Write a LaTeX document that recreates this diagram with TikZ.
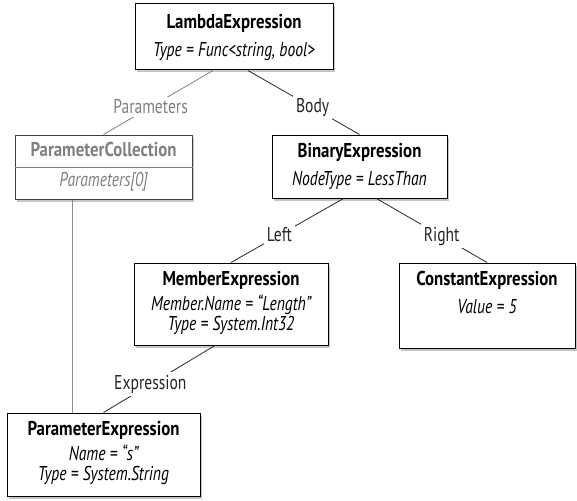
\documentclass[tikz,border=0pt]{standalone}
\usepackage{fontspec}
\setmainfont{PT Sans}[FakeStretch=0.78]
\newfontfamily\titlefont{PT Sans}[FakeStretch=0.84]
\usetikzlibrary{shadows,fit}
\definecolor{dimgray}{HTML}{808080}
\newcommand{\eqs}{\hspace{0.22em}=\hspace{0.22em}}
\tikzset{
  box/.style={draw=black, line width=1pt, fill=white, inner sep=0pt,
    drop shadow={shadow xshift=2pt, shadow yshift=-2.5pt, fill=black!50, opacity=0.45}},
  txt/.style={anchor=base, inner sep=0pt, font=\fontsize{20}{22}\selectfont},
  ttl/.style={txt, font=\fontsize{20}{22}\selectfont\titlefont\bfseries},
  conn/.style={line width=0.8pt, black!85},
  gconn/.style={line width=0.8pt, dimgray},
  lbl/.style={fill=white, inner sep=3pt, font=\fontsize{20}{22}\selectfont}
}
\begin{document}
\begin{tikzpicture}[x=1pt,y=-1pt]
\useasboundingbox (0,0) rectangle (577,500);
% boxes
\node[box, fit={(135,4) (333,70)}] (lambda) {};
\node[box, draw=black!75, fit={(15,135) (192,199)}] (pc) {};
\node[box, fit={(272,135) (447,198)}] (be) {};
\node[box, fit={(134,263) (328,345)}] (me) {};
\node[box, fit={(399,263) (575,348)}] (ce) {};
\node[box, fit={(7,413) (200,496)}] (pe) {};
\draw[dimgray, line width=0.6pt] (pc.west |- 0,167) -- (pc.east |- 0,167);
% texts
\node[ttl] (lambdaT) at (234,29) {LambdaExpression};
\node[txt] (lambdaA) at (234,57) {\itshape Type\eqs Func<string, bool>};
\node[ttl, text=dimgray] (pcT) at (103.5,156) {ParameterCollection};
\node[txt, text=dimgray] (pcA) at (103.5,186) {\itshape Parameters[0]};
\node[ttl] (beT) at (359.5,157) {BinaryExpression};
\node[txt] (beA) at (359.5,185) {\itshape NodeType\eqs LessThan};
\node[ttl] (meT) at (231,285) {MemberExpression};
\node[txt] (meA) at (231,310) {\itshape Member.Name\eqs “Length”};
\node[txt] (meB) at (231,330) {\itshape Type\eqs System.Int32};
\node[ttl] (ceT) at (487,285) {ConstantExpression};
\node[txt] (ceA) at (487,313) {\itshape Value\eqs 5};
\node[ttl] (peT) at (103.5,435) {ParameterExpression};
\node[txt] (peA) at (103.5,460) {\itshape Name\eqs “s”};
\node[txt] (peB) at (103.5,480) {\itshape Type\eqs System.String};
% connectors
\draw[gconn] ([xshift=-21pt]lambda.south) -- node[lbl, pos=0.57, text=dimgray] (lp) {Parameters} (pc.north);
\draw[conn] ([xshift=14pt]lambda.south) -- node[lbl, pos=0.58] (lb) {Body} (be.north);
\draw[conn] ([xshift=-16pt]be.south) -- node[lbl, pos=0.57] (ll) {Left} (me.north);
\draw[conn] ([xshift=17pt]be.south) -- node[lbl, pos=0.59] (lr) {Right} (ce.north);
\draw[conn] ([xshift=-16pt]me.south) -- node[lbl, pos=0.58] (le) {Expression} (pe.north);
\draw[gconn, black!45] ([xshift=-31.5pt]pc.south) -- ([xshift=-31.5pt]pe.north);
\end{tikzpicture}
\end{document}
